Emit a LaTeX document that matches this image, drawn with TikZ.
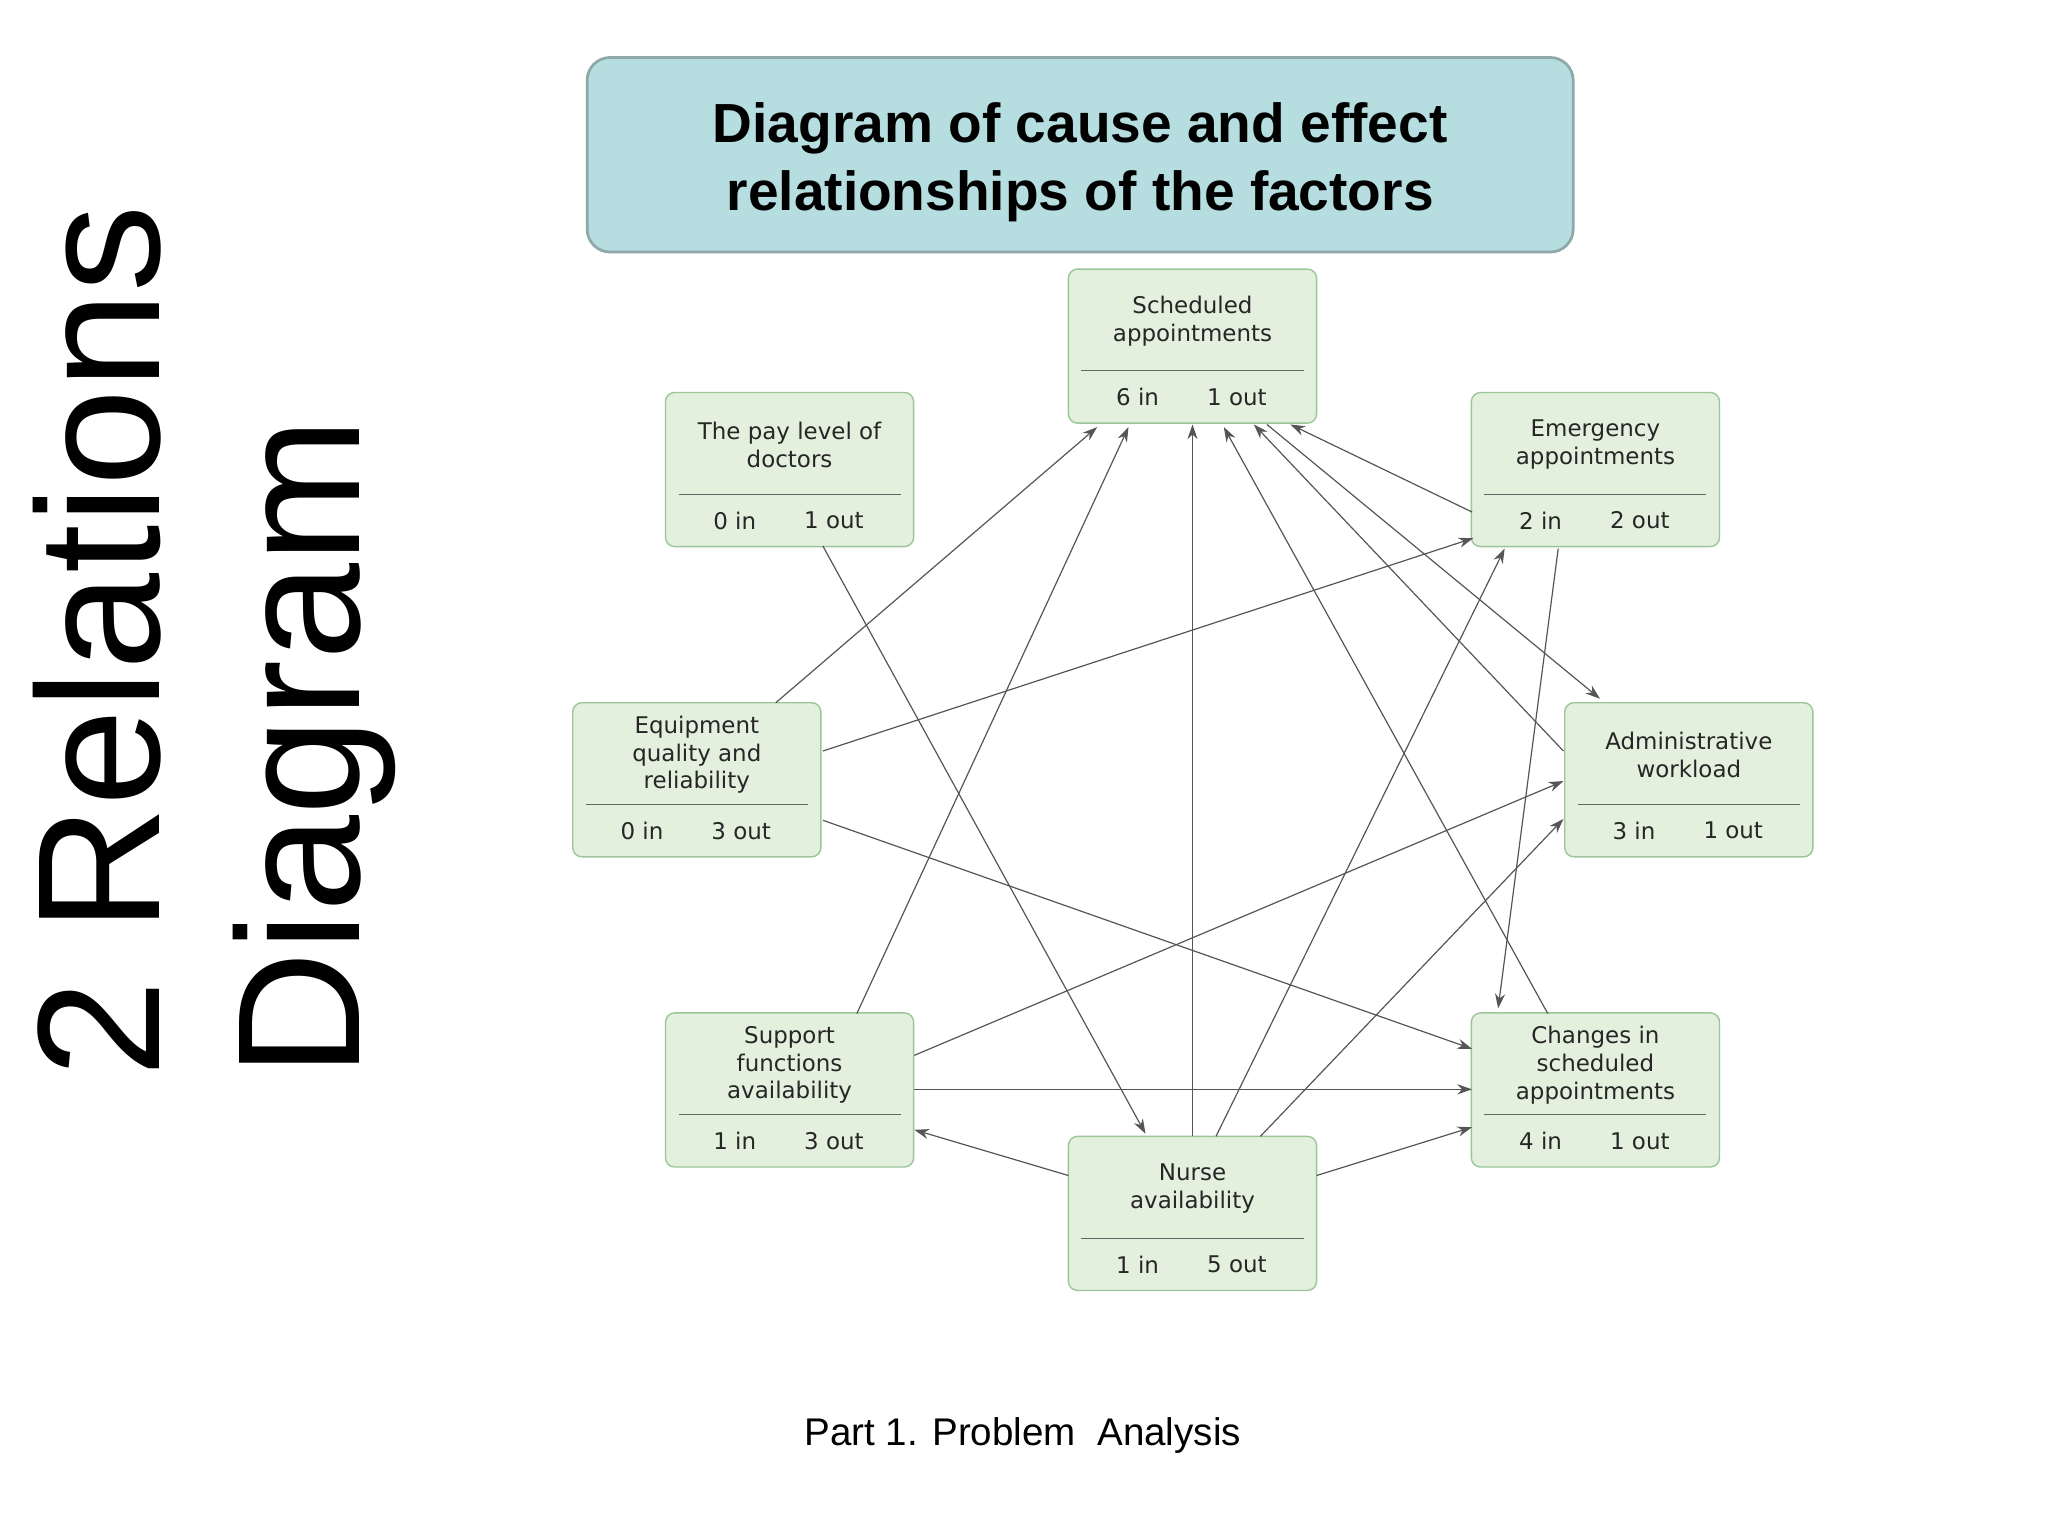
\documentclass[tikz,border=0pt]{standalone}
\usepackage{fontspec}
\setmainfont{DejaVu Sans}
\newfontfamily\arial{Liberation Sans}
\usetikzlibrary{arrows.meta,calc}
\definecolor{boxfill}{HTML}{E2F0DD}
\definecolor{boxdraw}{HTML}{9CC59A}
\definecolor{titlefill}{HTML}{B6DDE0}
\definecolor{titledraw}{HTML}{8FA8AA}
\definecolor{ln}{HTML}{555555}
\begin{document}
\begin{tikzpicture}[x=0.05cm,y=-0.05cm,
  box/.style={draw=boxdraw,line width=1.5pt,fill=boxfill,rounded corners=10pt,minimum width=9.5cm,minimum height=5.9cm,inner sep=0pt},
  lbl/.style={align=center,font=\fontsize{25}{30}\selectfont,text=black!85,inner sep=0pt},
  sep/.style={draw=black!60,line width=1.2pt},
  arr/.style={draw=ln,line width=1.3pt,-{Stealth[length=16pt,width=11pt]}}]
\useasboundingbox (0,0) rectangle (1568,1176);
\fill[white] (0,0) rectangle (1568,1176);
% title
\node[draw=titledraw,line width=3pt,fill=titlefill,rounded corners=25pt,minimum width=37.75cm,minimum height=7.45cm] (title) at (827,118.5) {};
\node[align=center,font=\arial\bfseries\fontsize{60}{74}\selectfont] (titletext) at (827,124) {Diagram of cause and effect\\relationships of the factors};
% side text
\node[rotate=90,align=left,font=\arial\fontsize{190}{218}\selectfont,inner sep=0pt,anchor=south west] (side) at (303,825) {2 Relations\\Diagram};
\node[font=\arial\fontsize{42}{50}\selectfont] (foot) at (783,1099) {Part 1. Problem\ \ Analysis};
% boxes
\newcommand{\factor}[5]{%
  \node[box] (#1) at (#2) {};
  \node[lbl] at ([shift={(0,-19)}]#1.center) {#3};
  \draw[sep] ([shift={(-85,19)}]#1.center) -- ([shift={(85,19)}]#1.center);
  \node[lbl] at ([shift={(-42,39)}]#1.center) {#4};
  \node[lbl] at ([shift={(34,39)}]#1.center) {#5};}
\factor{sch}{913,265}{Scheduled\\appointments}{6 in}{1 out}
\factor{pay}{604.5,359.5}{The pay level of\\doctors}{0 in}{1 out}
\factor{emg}{1221.5,359.5}{Emergency\\appointments}{2 in}{2 out}
\factor{eqp}{533.5,597}{Equipment\\quality and\\reliability}{0 in}{3 out}
\factor{adm}{1293,597}{Administrative\\workload}{3 in}{1 out}
\factor{sup}{604.5,834.5}{Support\\functions\\availability}{1 in}{3 out}
\factor{chg}{1221.5,834.5}{Changes in\\scheduled\\appointments}{4 in}{1 out}
\factor{nur}{913,929}{Nurse\\availability}{1 in}{5 out}
% connectors
\draw[arr] ([shift={(25.5,58.5)}]pay.center) -- ([shift={(-36,-61)}]nur.center);
\draw[arr] ([shift={(60.5,-59)}]eqp.center) -- ([shift={(-73,62)}]sch.center);
\draw[arr] ([shift={(96.5,-22)}]eqp.center) -- ([shift={(-93.5,52.5)}]emg.center);
\draw[arr] ([shift={(96.5,31)}]eqp.center) -- ([shift={(-94.5,-31.5)}]chg.center);
\draw[arr] ([shift={(51.5,-58.5)}]sup.center) -- ([shift={(-49,62)}]sch.center);
\draw[arr] ([shift={(95.5,-26.5)}]sup.center) -- ([shift={(-96,1)}]adm.center);
\draw[arr] ([shift={(95.5,-0.5)}]sup.center) -- ([shift={(-94.5,-0.5)}]chg.center);
\draw[arr] ([shift={(-95,-29)}]nur.center) -- ([shift={(95.5,30.5)}]sup.center);
\draw[arr] ([shift={(0,-59)}]nur.center) -- ([shift={(0,60)}]sch.center);
\draw[arr] ([shift={(18,-59)}]nur.center) -- ([shift={(-69.5,60.5)}]emg.center);
\draw[arr] ([shift={(52,-59)}]nur.center) -- ([shift={(-96,30)}]adm.center);
\draw[arr] ([shift={(95,-29)}]nur.center) -- ([shift={(-94.5,28.5)}]chg.center);
\draw[arr] ([shift={(-36.5,-58.5)}]chg.center) -- ([shift={(24,62)}]sch.center);
\draw[arr] ([shift={(-28.5,60.5)}]emg.center) -- ([shift={(-74.5,-62.5)}]chg.center);
\draw[arr] ([shift={(-94.5,32.5)}]emg.center) -- ([shift={(75,60)}]sch.center);
\draw[arr] ([shift={(-96,-22)}]adm.center) -- ([shift={(47,60)}]sch.center);
\draw[arr] ([shift={(57,60)}]sch.center) -- ([shift={(-68,-62)}]adm.center);
\end{tikzpicture}
\end{document}
